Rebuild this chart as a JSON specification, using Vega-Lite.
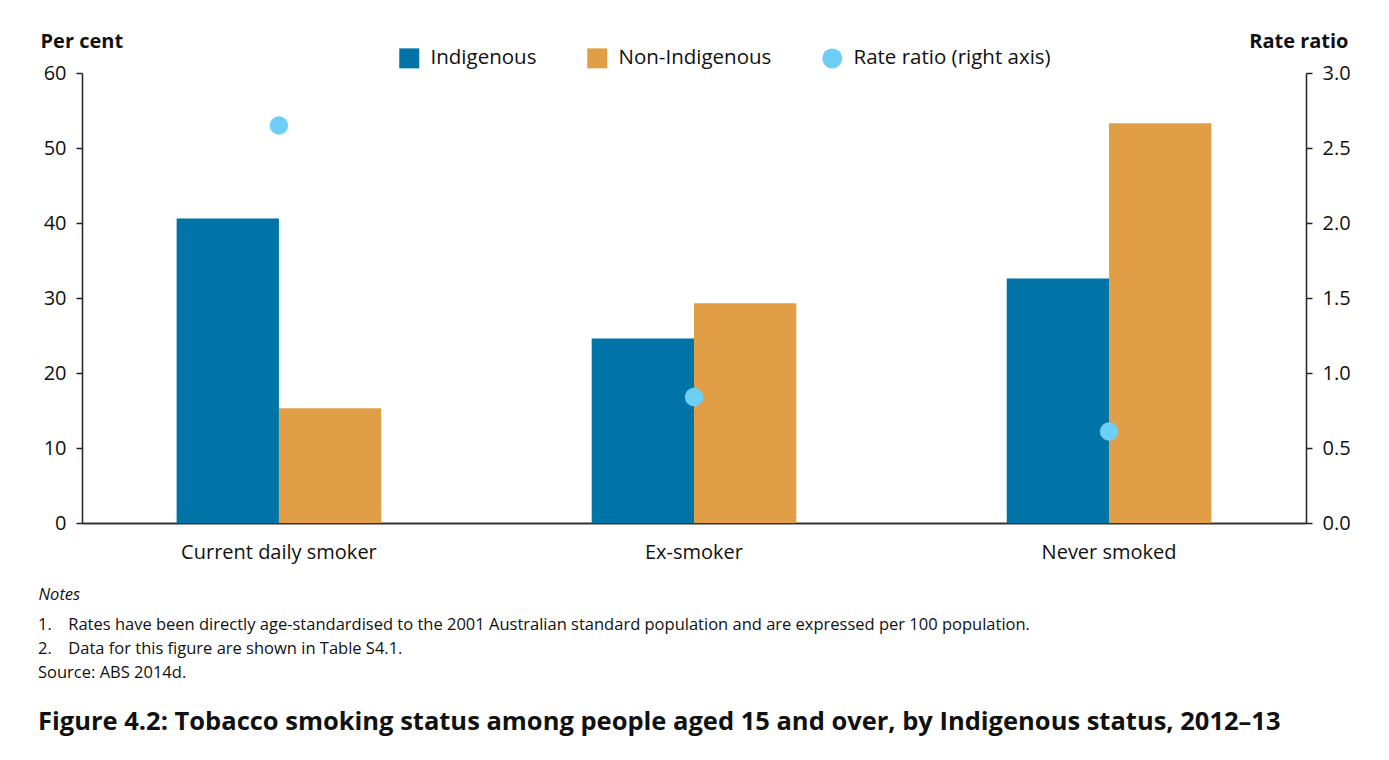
{
  "$schema": "https://vega.github.io/schema/vega-lite/v6.json",
  "width": 1224,
  "height": 450,
  "autosize": {"type": "none"},
  "padding": {"left": 82, "top": 73, "right": 83, "bottom": 237},
  "background": "white",
  "datasets": {
    "bars": [
      {"category": "Current daily smoker", "series": "Indigenous", "value": 40.6},
      {"category": "Current daily smoker", "series": "Non-Indigenous", "value": 15.3},
      {"category": "Ex-smoker", "series": "Indigenous", "value": 24.6},
      {"category": "Ex-smoker", "series": "Non-Indigenous", "value": 29.3},
      {"category": "Never smoked", "series": "Indigenous", "value": 32.6},
      {"category": "Never smoked", "series": "Non-Indigenous", "value": 53.3}
    ],
    "ratio": [
      {"category": "Current daily smoker", "series": "Rate ratio (right axis)", "ratio": 2.65},
      {"category": "Ex-smoker", "series": "Rate ratio (right axis)", "ratio": 0.84},
      {"category": "Never smoked", "series": "Rate ratio (right axis)", "ratio": 0.61}
    ]
  },
  "title": {
    "text": ["1.\u2003Rates have been directly age-standardised to the 2001 Australian standard population and are expressed per 100 population.", "2.\u2003Data for this figure are shown in Table S4.1.", "Source: ABS 2014d."],
    "subtitle": "Figure 4.2: Tobacco smoking status among people aged 15 and over, by Indigenous status, 2012–13",
    "orient": "bottom",
    "anchor": "start",
    "frame": "group",
    "dx": -44,
    "offset": 14,
    "font": "Open Sans",
    "fontSize": 16.5,
    "fontWeight": "normal",
    "color": "#111111",
    "lineHeight": 24,
    "limit": 0,
    "subtitleFont": "Open Sans",
    "subtitleFontSize": 25.5,
    "subtitleFontWeight": "bold",
    "subtitleColor": "#111111",
    "subtitlePadding": 29
  },
  "encoding": {
    "x": {
      "field": "category",
      "type": "nominal",
      "sort": ["Current daily smoker", "Ex-smoker", "Never smoked"],
      "scale": {"paddingInner": 0.507, "paddingOuter": 0.228},
      "axis": {
        "labelAngle": 0,
        "labelLimit": 0,
        "ticks": false,
        "tickSize": 0,
        "labelPadding": 19,
        "labelFontSize": 20,
        "labelFont": "Open Sans",
        "labelColor": "#111111",
        "domainColor": "#333333",
        "domainWidth": 2,
        "title": "Notes",
        "titleFont": "Open Sans",
        "titleFontSize": 16.5,
        "titleFontStyle": "italic",
        "titleFontWeight": "normal",
        "titleColor": "#111111",
        "titleAnchor": "start",
        "titleAlign": "left",
        "titleBaseline": "middle",
        "titleX": -44,
        "titleY": 71
      }
    }
  },
  "layer": [
    {
      "data": {"name": "bars"},
      "mark": {"type": "bar"},
      "encoding": {
        "xOffset": {"field": "series", "type": "nominal", "scale": {"paddingInner": 0, "paddingOuter": 0}},
        "y": {
          "field": "value",
          "type": "quantitative",
          "scale": {"domain": [0, 60], "nice": false},
          "axis": {
            "values": [0, 10, 20, 30, 40, 50, 60],
            "grid": false,
            "tickSize": 6,
            "tickColor": "#222222",
            "tickWidth": 1.5,
            "domainColor": "#222222",
            "domainWidth": 1.5,
            "labelPadding": 10,
            "labelFontSize": 20,
            "labelFont": "Open Sans",
            "labelColor": "#111111",
            "title": "Per cent",
            "titleAngle": 0,
            "titleFont": "Open Sans",
            "titleFontSize": 20,
            "titleFontWeight": "bold",
            "titleColor": "#111111",
            "titleAlign": "left",
            "titleBaseline": "middle",
            "titleX": -42,
            "titleY": -32
          }
        },
        "color": {
          "field": "series",
          "type": "nominal",
          "scale": {
            "domain": ["Indigenous", "Non-Indigenous", "Rate ratio (right axis)"],
            "range": ["#0073A7", "#E09E46", "#6DCFF6"]
          },
          "legend": {
            "title": null,
            "orient": "none",
            "direction": "horizontal",
            "legendX": 317,
            "legendY": -25,
            "symbolSize": 400,
            "symbolType": "square",
            "symbolStrokeWidth": 0,
            "symbolOpacity": 1,
            "labelFont": "Open Sans",
            "labelFontSize": 20.5,
            "labelColor": "#111111",
            "labelOffset": 11,
            "labelLimit": 0,
            "columnPadding": 50,
            "encode": {
              "symbols": {
                "update": {
                  "shape": {"signal": "datum.value === 'Rate ratio (right axis)' ? 'circle' : 'square'"}
                }
              }
            }
          }
        }
      }
    },
    {
      "data": {"name": "ratio"},
      "mark": {"type": "point", "filled": true, "opacity": 1, "size": 340},
      "encoding": {
        "y": {
          "field": "ratio",
          "type": "quantitative",
          "scale": {"domain": [0, 3], "nice": false},
          "axis": {
            "orient": "right",
            "values": [0, 0.5, 1, 1.5, 2, 2.5, 3],
            "format": ".1f",
            "grid": false,
            "tickSize": 6,
            "tickColor": "#222222",
            "tickWidth": 1.5,
            "domainColor": "#222222",
            "domainWidth": 1.5,
            "labelPadding": 10,
            "labelFontSize": 20,
            "labelFont": "Open Sans",
            "labelColor": "#111111",
            "title": "Rate ratio",
            "titleAngle": 0,
            "titleFont": "Open Sans",
            "titleFontSize": 20,
            "titleFontWeight": "bold",
            "titleColor": "#111111",
            "titleAlign": "right",
            "titleBaseline": "middle",
            "titleX": 42,
            "titleY": -32
          }
        },
        "color": {"field": "series", "type": "nominal"}
      }
    }
  ],
  "resolve": {"scale": {"y": "independent"}},
  "config": {
    "view": {"stroke": null},
    "font": "Open Sans"
  }
}
